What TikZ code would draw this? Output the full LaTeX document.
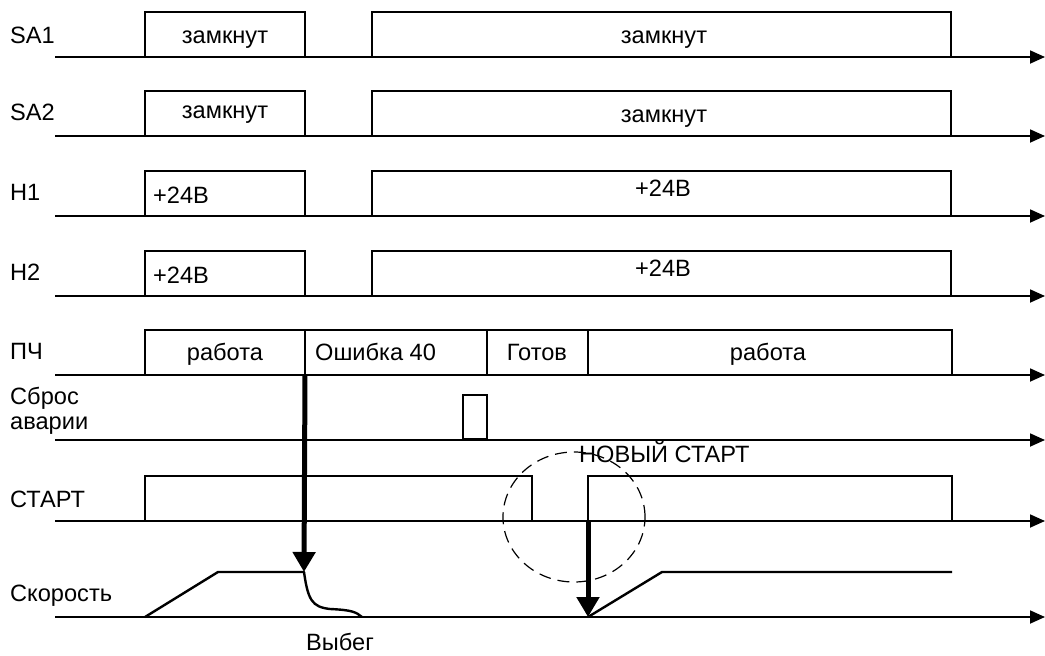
\documentclass[tikz,border=0pt]{standalone}
\usepackage{fontspec}
\setmainfont{Liberation Sans}
\usetikzlibrary{arrows.meta,shapes.geometric}
\begin{document}
\begin{tikzpicture}[x=1pt,y=-1pt,
  sig/.style={line width=1.8pt,-{Triangle[length=15pt,width=13pt]}},
  pulse/.style={draw,line width=2.8pt,inner sep=0pt,outer sep=0pt,anchor=south west,minimum height=45pt},
  txt/.style={inner sep=0pt,font=\fontsize{23.6}{27}\selectfont},
  bigarrow/.style={line width=5pt,-{Triangle[length=20pt,width=22pt]}},
  speed/.style={line width=2.4pt,line join=round}]
\useasboundingbox (0,0) rectangle (1045,656);

% baselines
\foreach \n/\y in {1/57,2/136,3/216,4/296,5/375,6/440,7/521,8/617}{
  \coordinate (s\n) at (55,\y);
  \coordinate (e\n) at (1045,\y);
  \draw[sig] (s\n) -- (e\n);
}

% row labels
\node[txt,anchor=base west] (lSA1) at (10,43) {SA1};
\node[txt,anchor=base west] (lSA2) at (10,120) {SA2};
\node[txt,anchor=base west] (lH1) at (10,200) {H1};
\node[txt,anchor=base west] (lH2) at (10,280) {H2};
\node[txt,anchor=base west] (lPCh) at (10,359) {ПЧ};
\node[txt,anchor=base west] (lRes1) at (10,404) {Сброс};
\node[txt,anchor=base west] (lRes2) at (10,429) {аварии};
\node[txt,anchor=base west] (lStart) at (10,507) {СТАРТ};
\node[txt,anchor=base west] (lSpeed) at (10,601) {Скорость};

% SA1
\node[pulse,minimum width=160pt] (sa1a) at (145,57) {};
\node[pulse,minimum width=579pt] (sa1b) at (372,57) {};
\node[txt,anchor=base] (tsa1a) at (225,43) {замкнут};
\node[txt,anchor=base] (tsa1b) at (664,43) {замкнут};
% SA2
\node[pulse,minimum width=160pt] (sa2a) at (145,136) {};
\node[pulse,minimum width=579pt] (sa2b) at (372,136) {};
\node[txt,anchor=base] (tsa2a) at (225,118) {замкнут};
\node[txt,anchor=base] (tsa2b) at (664,122) {замкнут};
% H1
\node[pulse,minimum width=160pt] (h1a) at (145,216) {};
\node[pulse,minimum width=579pt] (h1b) at (372,216) {};
\node[txt,anchor=base west] (th1a) at (153,203) {+24В};
\node[txt,anchor=base] (th1b) at (663,196) {+24В};
% H2
\node[pulse,minimum width=160pt] (h2a) at (145,296) {};
\node[pulse,minimum width=579pt] (h2b) at (372,296) {};
\node[txt,anchor=base west] (th2a) at (153,283) {+24В};
\node[txt,anchor=base] (th2b) at (663,276) {+24В};
% PCh
\node[pulse,minimum width=160pt] (pc1) at (145,375) {};
\node[pulse,minimum width=182pt] (pc2) at (305,375) {};
\node[pulse,minimum width=101pt] (pc3) at (487,375) {};
\node[pulse,minimum width=364pt] (pc4) at (588,375) {};
\node[txt,anchor=base] (tpc1) at (225,360) {работа};
\node[txt,anchor=base west] (tpc2) at (315,360) {Ошибка 40};
\node[txt,anchor=base] (tpc3) at (537,360) {Готов};
\node[txt,anchor=base] (tpc4) at (768,360) {работа};
% reset pulse
\node[pulse,minimum width=24pt,minimum height=44pt] (rst) at (463,439) {};
% START
\node[pulse,minimum width=387pt] (st1) at (145,521) {};
\node[pulse,minimum width=364pt] (st2) at (588,521) {};

% speed
\coordinate (v0) at (145,617);
\coordinate (v1) at (218,572);
\coordinate (v2) at (304,572);
\coordinate (v3) at (362,617);
\draw[speed] (v0) -- (v1) -- (v2) .. controls (308,600) and (312,607) .. (330,609) .. controls (352,610) and (356,612) .. (v3);
\coordinate (w0) at (588,617);
\coordinate (w1) at (662,572);
\coordinate (w2) at (952,572);
\draw[speed] (w0) -- (w1) -- (w2);

% thick arrows
\draw[bigarrow] (pc1.south east) -- (v2);
\draw[bigarrow] (st2.south west) -- (w0);

% dashed ellipse and label
\node[draw,dashed,dash pattern=on 12pt off 7pt,line width=1.2pt,ellipse,minimum width=142pt,minimum height=130pt,inner sep=0pt] (circ) at (574,517) {};
\node[txt,anchor=base west] (tnew) at (579,462) {НОВЫЙ СТАРТ};
\node[txt,anchor=base] (tvyb) at (340,650) {Выбег};
\end{tikzpicture}
\end{document}
